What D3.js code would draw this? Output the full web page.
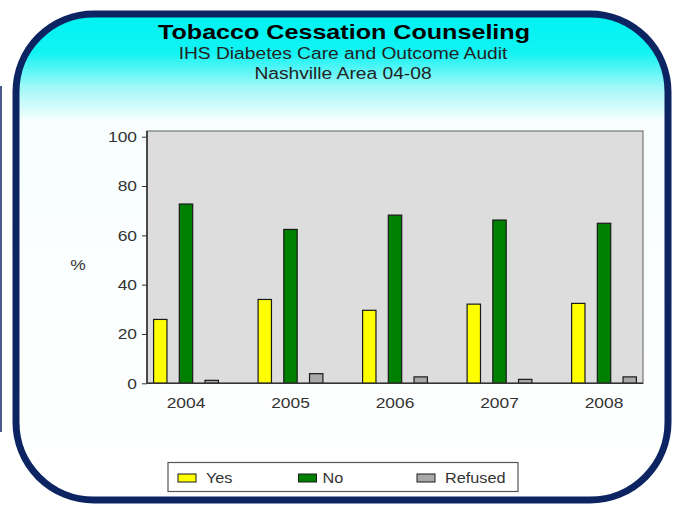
<!DOCTYPE html>
<html>
<head>
<meta charset="utf-8">
<script src="https://cdn.jsdelivr.net/npm/d3@7"></script>
<style>
  html, body { margin: 0; padding: 0; background: #ffffff; }
  svg { display: block; font-family: "Liberation Sans", Arial, sans-serif; }
</style>
</head>
<body>
<svg id="chart" width="680" height="506"></svg>
<script>
// Tobacco cessation counseling results by audit year (percent of patients)
const years = ["2004", "2005", "2006", "2007", "2008"];
const seriesNames = ["Yes", "No", "Refused"];
const yesValues = [25.9, 34.0, 29.6, 32.1, 32.4];
const noValues = [72.7, 62.4, 68.2, 66.2, 64.9];
const refusedValues = [1.2, 3.9, 2.6, 1.6, 2.6];
const yTicks = [0, 20, 40, 60, 80, 100];
const seriesColors = ["#ffff00", "#008000", "#a9a9a9"];

const titleText = "Tobacco Cessation Counseling";
const subtitleLines = ["IHS Diabetes Care and Outcome Audit", "Nashville Area 04-08"];

const values = [yesValues, noValues, refusedValues];

// the chart's lettering is set slightly wide
const WIDEN = 1.16;
function widen(sel, factor = WIDEN) {
  sel.each(function () {
    const w = this.getComputedTextLength();
    d3.select(this)
      .attr("textLength", w * factor)
      .attr("lengthAdjust", "spacingAndGlyphs");
  });
}

const svg = d3.select("#chart");

// Background panel: rounded frame with a cyan-to-white wash at the top
const defs = svg.append("defs");
const grad = defs.append("linearGradient")
  .attr("id", "panelFill")
  .attr("x1", 0).attr("y1", 0).attr("x2", 0).attr("y2", 1)
  .attr("gradientUnits", "objectBoundingBox");
grad.append("stop").attr("offset", "0%").attr("stop-color", "#00f2f2");
grad.append("stop").attr("offset", "8%").attr("stop-color", "#12f3f3");
grad.append("stop").attr("offset", "15%").attr("stop-color", "#a0f8f8");
grad.append("stop").attr("offset", "22%").attr("stop-color", "#f8fefe");
grad.append("stop").attr("offset", "100%").attr("stop-color", "#ffffff");

// sliver of a neighbouring frame at the far left edge
svg.append("line")
  .attr("x1", 1).attr("x2", 1).attr("y1", 86).attr("y2", 432)
  .attr("stroke", "#4a5d8a").attr("stroke-width", 2);

svg.append("rect")
  .attr("x", 16).attr("y", 14)
  .attr("width", 652).attr("height", 486)
  .attr("rx", 78).attr("ry", 78)
  .attr("fill", "url(#panelFill)")
  .attr("stroke", "#0c2461")
  .attr("stroke-width", 7);

// Titles
svg.append("text")
  .attr("x", 344).attr("y", 39)
  .attr("text-anchor", "middle")
  .attr("font-size", 21).attr("font-weight", "bold")
  .attr("fill", "#000")
  .attr("textLength", 372)
  .attr("lengthAdjust", "spacingAndGlyphs")
  .text(titleText);

svg.selectAll("text.sub")
  .data(subtitleLines)
  .join("text")
  .attr("class", "sub")
  .attr("x", 343)
  .attr("y", (d, i) => 59 + i * 19.5)
  .attr("text-anchor", "middle")
  .attr("font-size", 16)
  .attr("fill", "#222")
  .text(d => d)
  .call(widen, 1.2);

// Plot geometry
const plotLeft = 147, plotRight = 643, plotTop = 131, plotBottom = 383.3;

const x0 = d3.scaleBand()
  .domain(years)
  .range([plotLeft, plotRight])
  .paddingInner(0.38)
  .paddingOuter(0.063);

const x1 = d3.scaleBand()
  .domain(seriesNames)
  .range([0, x0.bandwidth()])
  .paddingInner(0.48)
  .paddingOuter(0);

const y = d3.scaleLinear()
  .domain([0, 100])
  .range([plotBottom, 136.7]);

// Plot area background and frame
svg.append("rect")
  .attr("x", plotLeft).attr("y", plotTop)
  .attr("width", plotRight - plotLeft).attr("height", plotBottom - plotTop)
  .attr("fill", "#dddddd")
  .attr("stroke", "#777")
  .attr("stroke-width", 1.2);

// Bars
const groups = svg.append("g")
  .selectAll("g")
  .data(years)
  .join("g")
  .attr("transform", d => `translate(${x0(d)},0)`);

groups.selectAll("rect")
  .data((d, i) => seriesNames.map((s, k) => ({ series: s, value: values[k][i], k })))
  .join("rect")
  .attr("x", d => x1(d.series))
  .attr("y", d => y(d.value))
  .attr("width", x1.bandwidth())
  .attr("height", d => plotBottom - y(d.value))
  .attr("fill", d => seriesColors[d.k])
  .attr("stroke", "#1a1a1a")
  .attr("stroke-width", 1.2);

// Y axis
const yAxis = d3.axisLeft(y)
  .tickValues(yTicks)
  .tickSize(5)
  .tickPadding(5)
  .tickFormat(d3.format("d"));

const gy = svg.append("g")
  .attr("transform", `translate(${plotLeft},0)`)
  .call(yAxis);
gy.select(".domain")
  .attr("d", `M0,${plotTop}V${plotBottom}`)
  .attr("stroke", "#222").attr("stroke-width", 1.4);
gy.selectAll(".tick line").attr("stroke", "#333");
gy.selectAll(".tick text")
  .attr("font-size", 15)
  .attr("fill", "#333")
  .attr("font-family", "'Liberation Sans', Arial, sans-serif")
  .call(widen);

// X axis
const xAxis = d3.axisBottom(x0).tickSize(0).tickPadding(14);
const gx = svg.append("g")
  .attr("transform", `translate(0,${plotBottom})`)
  .call(xAxis);
gx.select(".domain")
  .attr("d", `M${plotLeft},0H${plotRight}`)
  .attr("stroke", "#333").attr("stroke-width", 1.4);
gx.selectAll(".tick text")
  .attr("font-size", 15)
  .attr("fill", "#333")
  .attr("font-family", "'Liberation Sans', Arial, sans-serif")
  .call(widen);

// Axis title
svg.append("text")
  .attr("x", 78).attr("y", 270)
  .attr("text-anchor", "middle")
  .attr("font-size", 15)
  .attr("fill", "#333")
  .text("%")
  .call(widen);

// Legend
const legend = svg.append("g");
legend.append("rect")
  .attr("x", 168).attr("y", 462.5)
  .attr("width", 350).attr("height", 29)
  .attr("fill", "#ffffff")
  .attr("stroke", "#555")
  .attr("stroke-width", 1.2);

const legendX = [178, 298.5, 417];
const items = legend.selectAll("g.item")
  .data(seriesNames)
  .join("g")
  .attr("class", "item")
  .attr("transform", (d, i) => `translate(${legendX[i]},0)`);
items.append("rect")
  .attr("x", 0).attr("y", 474)
  .attr("width", 18).attr("height", 8)
  .attr("fill", (d, i) => seriesColors[i])
  .attr("stroke", "#1a1a1a")
  .attr("stroke-width", 1);
items.append("text")
  .attr("x", (d, i) => i === 1 ? 24 : 28)
  .attr("y", 483)
  .attr("font-size", 14.5)
  .attr("fill", "#333")
  .text(d => d)
  .call(widen, 1.12);
</script>
</body>
</html>
